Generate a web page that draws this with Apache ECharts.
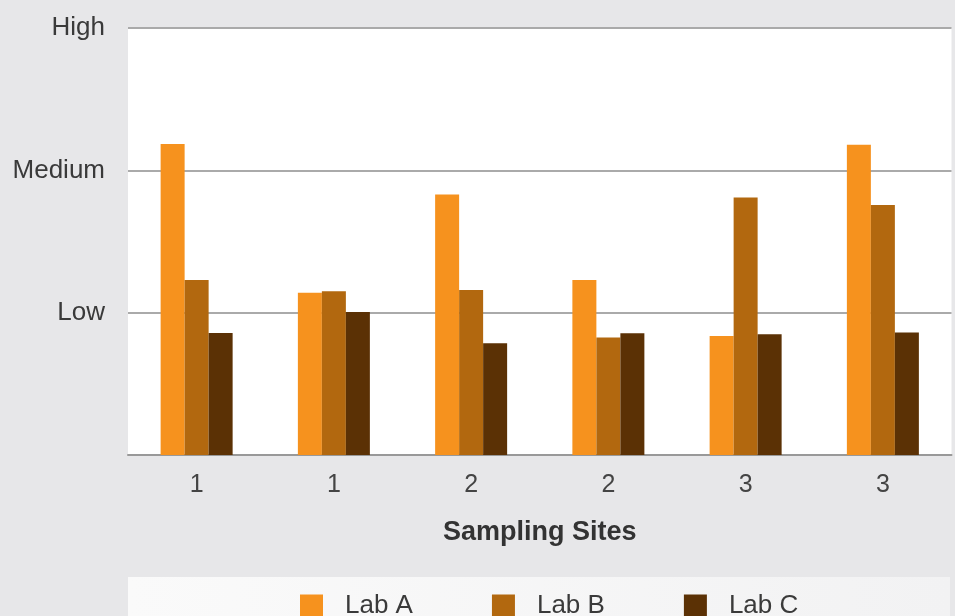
<!DOCTYPE html>
<html>
<head>
<meta charset="utf-8">
<script src="https://cdn.jsdelivr.net/npm/echarts@6/dist/echarts.min.js"></script>
<style>
html,body{margin:0;padding:0;background:#e7e7e9;}
#c{width:955px;height:616px;}
</style>
</head>
<body>
<div id="c"></div>
<script>
const categories = ['1', '1', '2', '2', '3', '3'];
const labA = [2.185, 1.14, 1.83, 1.23, 0.836, 2.18];
const labB = [1.23, 1.15, 1.16, 0.825, 1.81, 1.757];
const labC = [0.857, 1.005, 0.785, 0.855, 0.848, 0.86];
const levelLabels = ['', 'Low', 'Medium', 'High'];
const seriesNames = ['Lab A', 'Lab B', 'Lab C'];
const colors = ['#f6921e', '#b2680f', '#5b3105'];

const chart = echarts.init(document.getElementById('c'));
const font = '"Liberation Sans", Arial, Helvetica, sans-serif';
chart.setOption({
  backgroundColor: '#e7e7e9',
  animation: false,
  textStyle: { fontFamily: font },
  graphic: [{
    type: 'rect',
    left: 128, top: 577,
    shape: { width: 822, height: 39 },
    style: {
      fill: new echarts.graphic.LinearGradient(0, 0, 1, 0, [
        { offset: 0, color: '#fafafa' },
        { offset: 1, color: '#f2f2f3' }
      ])
    },
    z: 0
  }],
  grid: {
    left: 128, right: 3.5, top: 28, bottom: 161,
    show: true, backgroundColor: '#ffffff', borderWidth: 0
  },
  legend: {
    left: 295, top: 588,
    itemWidth: 23, itemHeight: 23, itemGap: 79,
    icon: 'rect',
    textStyle: { fontSize: 26, color: '#3a3a3a', fontFamily: font, padding: [0, 0, 0, 17] },
    data: seriesNames
  },
  xAxis: {
    type: 'category',
    data: categories,
    name: 'Sampling Sites',
    nameLocation: 'middle',
    nameGap: 64,
    nameTextStyle: { fontSize: 27, fontWeight: 'bold', color: '#333', fontFamily: font },
    axisLine: { show: true, lineStyle: { color: '#999', width: 2 } },
    axisTick: { show: false },
    axisLabel: { fontSize: 25, color: '#444', margin: 18, fontFamily: font }
  },
  yAxis: {
    type: 'value',
    min: 0, max: 3, interval: 1,
    axisLine: { show: false },
    axisTick: { show: false },
    axisLabel: {
      fontSize: 26, color: '#3a3a3a', margin: 23, fontFamily: font,
      formatter: v => levelLabels[Math.round(v)]
    },
    splitLine: { show: true, lineStyle: { color: '#aaaaaa', width: 2 } }
  },
  series: seriesNames.map((n, i) => ({
    name: n,
    type: 'bar',
    data: [labA, labB, labC][i],
    itemStyle: { color: colors[i] },
    barWidth: 24,
    barGap: '0%'
  }))
});
</script>
</body>
</html>
